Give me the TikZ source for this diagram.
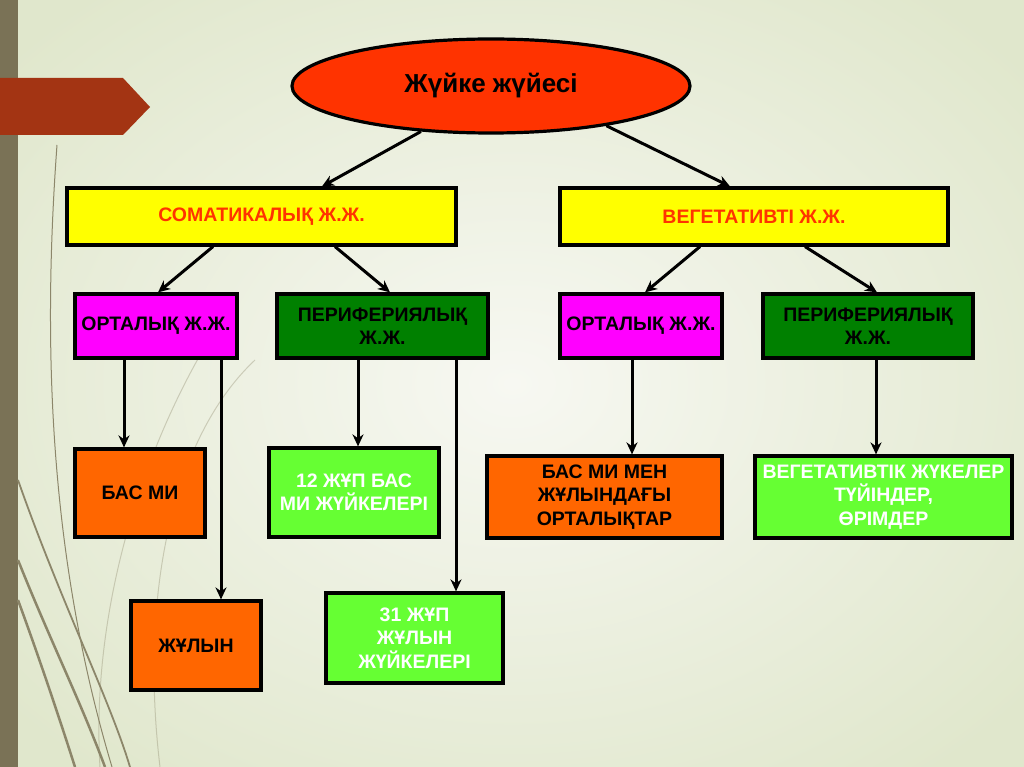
\documentclass[tikz,border=0pt]{standalone}
\usepackage{fontspec}
\setmainfont{Liberation Sans}
\usepackage{tikz}
\usetikzlibrary{shapes.geometric,arrows.meta}
\definecolor{bgin}{HTML}{F7F8F2}
\definecolor{bgout}{HTML}{E0E7CC}
\definecolor{barc}{HTML}{7A7256}
\definecolor{banc}{HTML}{A33413}
\definecolor{curc}{HTML}{8C866A}
\definecolor{redor}{HTML}{FF3300}
\definecolor{orng}{HTML}{FF6600}
\definecolor{dgrn}{HTML}{008000}
\definecolor{lgrn}{HTML}{66FF33}
\definecolor{mgnt}{HTML}{FF00FF}
\definecolor{yllw}{HTML}{FFFF00}

\begin{document}
\begin{tikzpicture}[x=1pt,y=-1pt,
    box/.style={draw=black,line width=3.2pt,inner sep=2pt,align=center,
      font=\bfseries\fontsize{19.5}{23.5}\selectfont},
    arr/.style={line width=3pt,-{Stealth[length=12pt,width=11pt]}},
    deco/.style={curc,line width=1.5pt}]
  \useasboundingbox (0,0) rectangle (1024,767);
  \shade[inner color=bgin,outer color=bgout] (-150,-120) rectangle (1174,887);
  \fill[barc] (0,0) rectangle (18,767);
  \fill[banc] (0,78)--(123,78)--(150,107)--(123,135)--(0,135)--cycle;
  % background swirls
  \draw[deco,line width=1pt] (57,145) .. controls (42,350) and (50,560) .. (112,767);
  \draw[deco,line width=2.5pt] (18,560) .. controls (50,640) and (80,700) .. (105,767);
  \draw[deco,line width=2.5pt] (18,600) .. controls (40,660) and (60,720) .. (75,767);
  \draw[deco,line width=1.8pt] (18,480) .. controls (60,600) and (110,700) .. (130,767);
  \draw[deco,opacity=0.35,line width=1pt] (235,300) .. controls (150,420) and (90,600) .. (100,767);
  \draw[deco,opacity=0.35,line width=1pt] (255,360) .. controls (170,440) and (140,600) .. (160,767);

  \node[ellipse,draw=black,line width=3.2pt,fill=redor,minimum width=398pt,
    minimum height=94pt,inner sep=0pt,font=\bfseries\fontsize{26}{30}\selectfont]
    (top) at (491,86) {Жүйке жүйесі};

  \node[box,fill=yllw,text=redor,minimum width=389pt,minimum height=57pt]
    (soma) at (261.5,216.5) {СОМАТИКАЛЫҚ Ж.Ж.};
  \node[box,fill=yllw,text=redor,minimum width=388pt,minimum height=57pt]
    (vege) at (754,216.5) {ВЕГЕТАТИВТІ Ж.Ж.};

  \node[box,fill=mgnt,minimum width=162pt,minimum height=64pt]
    (ortl1) at (156,326) {ОРТАЛЫҚ Ж.Ж.};
  \node[box,fill=dgrn,minimum width=211pt,minimum height=64pt]
    (perf1) at (382.5,326) {ПЕРИФЕРИЯЛЫҚ\\Ж.Ж.};
  \node[box,fill=mgnt,minimum width=162pt,minimum height=64pt]
    (ortl2) at (641,326) {ОРТАЛЫҚ Ж.Ж.};
  \node[box,fill=dgrn,minimum width=210pt,minimum height=64pt]
    (perf2) at (868,326) {ПЕРИФЕРИЯЛЫҚ\\Ж.Ж.};

  \node[box,fill=orng,minimum width=130pt,minimum height=88pt]
    (basmi) at (140,493) {БАС МИ};
  \node[box,fill=orng,minimum width=130pt,minimum height=89pt]
    (zhulyn) at (196,645.5) {ЖҰЛЫН};
  \node[box,fill=lgrn,text=white,minimum width=170pt,minimum height=89pt]
    (bascn) at (354,492.5) {12 ЖҰП БАС\\МИ ЖҮЙКЕЛЕРІ};
  \node[box,fill=lgrn,text=white,minimum width=177pt,minimum height=90pt]
    (zhulcn) at (414.5,638) {31 ЖҰП\\ЖҰЛЫН\\ЖҮЙКЕЛЕРІ};
  \node[box,fill=orng,minimum width=235pt,minimum height=82pt]
    (centr) at (604.5,497) {БАС МИ МЕН\\ЖҰЛЫНДАҒЫ\\ОРТАЛЫҚТАР};
  \node[box,fill=lgrn,text=white,minimum width=257pt,minimum height=82pt]
    (vegnd) at (883.5,497) {ВЕГЕТАТИВТІК ЖҮКЕЛЕР\\ТҮЙІНДЕР,\\ӨРІМДЕР};

  % arrows
  \draw[arr] (top.213) -- ([xshift=60.5pt]soma.north);
  \draw[arr] (top.341) -- ([xshift=-24pt]vege.north);
  \draw[arr] ([xshift=-48.5pt]soma.south) -- ([xshift=2pt]ortl1.north);
  \draw[arr] ([xshift=73.5pt]soma.south) -- ([xshift=7.5pt]perf1.north);
  \draw[arr] ([xshift=-54pt]vege.south) -- ([xshift=4pt]ortl2.north);
  \draw[arr] ([xshift=51pt]vege.south) -- ([xshift=9pt]perf2.north);
  \draw[arr] ([xshift=-32pt]ortl1.south) -- ([xshift=-32pt]ortl1.south |- basmi.north);
  \draw[arr] ([xshift=65pt]ortl1.south) -- ([xshift=65pt]ortl1.south |- zhulyn.north);
  \draw[arr] ([xshift=-24.5pt]perf1.south) -- ([xshift=-24.5pt]perf1.south |- bascn.north);
  \draw[arr] ([xshift=73.5pt]perf1.south) -- ([xshift=73.5pt]perf1.south |- zhulcn.north);
  \draw[arr] ([xshift=-9pt]ortl2.south) -- ([xshift=-9pt]ortl2.south |- centr.north);
  \draw[arr] ([xshift=8pt]perf2.south) -- ([xshift=8pt]perf2.south |- vegnd.north);
\end{tikzpicture}
\end{document}
